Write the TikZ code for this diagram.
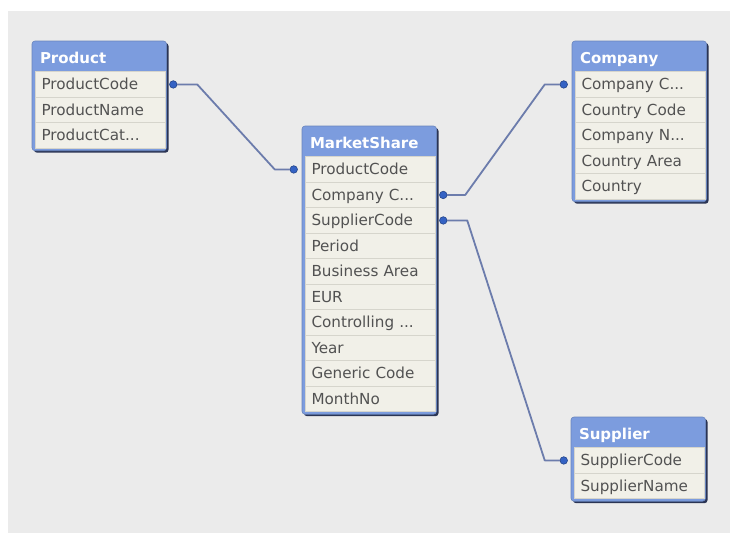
\documentclass[tikz,border=0pt]{standalone}
\usepackage{fontspec}
\setmainfont{DejaVu Sans}
\usetikzlibrary{positioning,calc}

\definecolor{canvas}{RGB}{235,235,235}
\definecolor{hdrblue}{RGB}{124,156,222}
\definecolor{shadownavy}{RGB}{42,52,84}
\definecolor{bodybg}{RGB}{241,240,232}
\definecolor{rowline}{RGB}{214,213,204}
\definecolor{fieldtext}{RGB}{82,82,82}
\definecolor{linkgrey}{RGB}{108,124,172}
\definecolor{dotblue}{RGB}{52,98,196}

\tikzset{
    table/.style={fill=hdrblue, draw=hdrblue!85!black, line width=0.6pt, rounded corners=3pt},
    tableshadow/.style={fill=shadownavy, rounded corners=3pt},
    header/.style={anchor=north west, minimum width=130pt, text width=120pt, inner xsep=5pt, inner ysep=0pt,
        minimum height=27.7pt, text height=11pt, text depth=0pt, outer sep=0pt, align=left,
        text=white, font=\fontsize{15}{18}\bfseries\selectfont},
    field/.style={minimum width=130pt, text width=117pt, inner xsep=6.5pt, inner ysep=0pt,
        minimum height=25.5pt, text height=11.5pt, text depth=0.5pt, outer sep=0pt, align=left,
        fill=bodybg, draw=rowline, line width=0.8pt, text=fieldtext, font=\fontsize{15.2}{18}\selectfont},
    keydot/.style={circle, fill=dotblue, draw=dotblue!70!black, line width=0.6pt, minimum size=7.5pt, inner sep=0pt, outer sep=0pt},
    link/.style={draw=linkgrey, line width=1.8pt, line join=round},
}

\begin{document}
\begin{tikzpicture}[x=1pt, y=1pt]
        \useasboundingbox (0,0) rectangle (730,-533);
        \fill[canvas] (8,-11) rectangle (730,-533);

        % Product table
        \fill[tableshadow] (34,-43) rectangle ++(134.5,-109.7);
        \filldraw[table] (32,-41) rectangle ++(134.5,-109.7);
        \node[header] (product) at (35,-44) {Product};
        \node[field, below=0pt of product] (product-code) {ProductCode};
        \node[field, below=0pt of product-code] (product-name) {ProductName};
        \node[field, below=0pt of product-name] (product-cat) {ProductCat...};

        % MarketShare table
        \fill[tableshadow] (304,-128) rectangle ++(134.5,-288.2);
        \filldraw[table] (302,-126) rectangle ++(134.5,-288.2);
        \node[header] (marketshare) at (305,-129) {MarketShare};
        \node[field, below=0pt of marketshare] (ms-product) {ProductCode};
        \node[field, below=0pt of ms-product] (ms-company) {Company C...};
        \node[field, below=0pt of ms-company] (ms-supplier) {SupplierCode};
        \node[field, below=0pt of ms-supplier] (ms-period) {Period};
        \node[field, below=0pt of ms-period] (ms-area) {Business Area};
        \node[field, below=0pt of ms-area] (ms-eur) {EUR};
        \node[field, below=0pt of ms-eur] (ms-controlling) {Controlling ...};
        \node[field, below=0pt of ms-controlling] (ms-year) {Year};
        \node[field, below=0pt of ms-year] (ms-generic) {Generic Code};
        \node[field, below=0pt of ms-generic] (ms-month) {MonthNo};

        % Company table
        \fill[tableshadow] (574,-43) rectangle ++(134.5,-160.7);
        \filldraw[table] (572,-41) rectangle ++(134.5,-160.7);
        \node[header] (company) at (575,-44) {Company};
        \node[field, below=0pt of company] (company-code) {Company C...};
        \node[field, below=0pt of company-code] (company-country) {Country Code};
        \node[field, below=0pt of company-country] (company-name) {Company N...};
        \node[field, below=0pt of company-name] (company-area) {Country Area};
        \node[field, below=0pt of company-area] (company-countryname) {Country};

        % Supplier table
        \fill[tableshadow] (573,-419) rectangle ++(134.5,-84.2);
        \filldraw[table] (571,-417) rectangle ++(134.5,-84.2);
        \node[header] (supplier) at (574,-420) {Supplier};
        \node[field, below=0pt of supplier] (supplier-code) {SupplierCode};
        \node[field, below=0pt of supplier-code] (supplier-name) {SupplierName};

        % key dots on the linked fields
        \node[keydot, right=4.5pt of product-code] (product-key) {};
        \node[keydot, left=7.5pt of ms-product] (ms-product-key) {};
        \node[keydot, right=4.5pt of ms-company] (ms-company-key) {};
        \node[keydot, right=4.5pt of ms-supplier] (ms-supplier-key) {};
        \node[keydot, left=7.5pt of company-code] (company-key) {};
        \node[keydot, left=6.5pt of supplier-code] (supplier-key) {};

        % links between tables
        \draw[link] (product-key) -- ++(24,0) -- ($(ms-product-key)+(-19,0)$) -- (ms-product-key);
        \draw[link] (ms-company-key) -- ++(22,0) -- ($(company-key)+(-19,0)$) -- (company-key);
        \draw[link] (ms-supplier-key) -- ++(24,0) -- ($(supplier-key)+(-19,0)$) -- (supplier-key);
    \end{tikzpicture}
\end{document}
